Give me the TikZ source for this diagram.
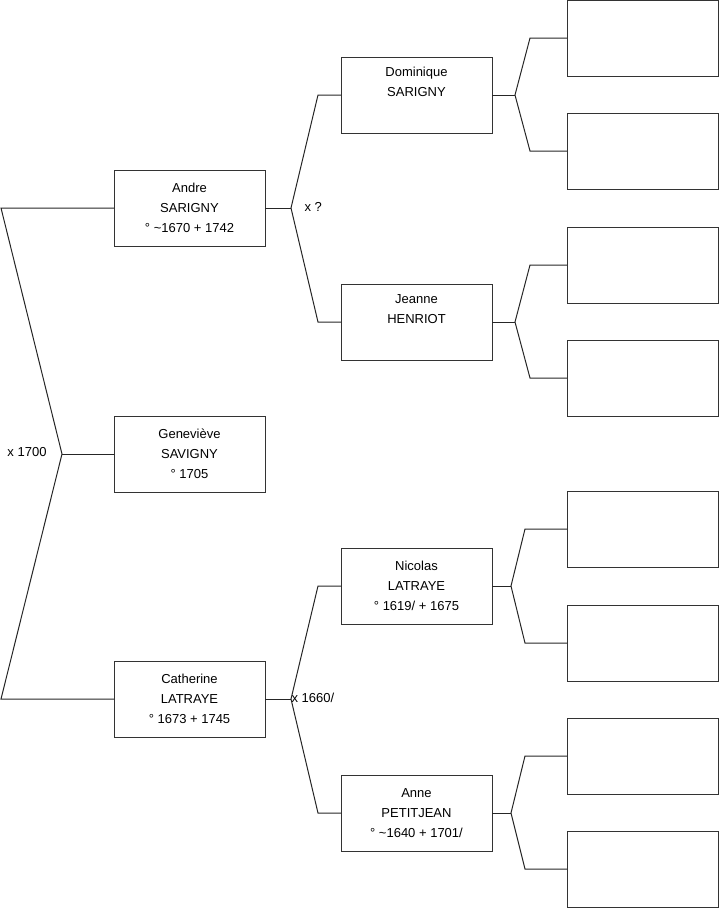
\documentclass[tikz,border=0pt]{standalone}
\usepackage{fontspec}
\setmainfont{Liberation Sans}
\usetikzlibrary{positioning}

\begin{document}
\begin{tikzpicture}[
    x=0.75pt, y=-0.75pt,
    line width=0.75pt,
    lien/.style={draw=black!85},
    person/.style={
        draw=black!80,
        rectangle,
        minimum width=113.25pt,
        minimum height=57pt,
        inner sep=0pt,
        outer sep=0pt,
        align=center,
        font=\fontsize{9.75}{15}\selectfont
    },
    mariage/.style={
        anchor=west,
        inner sep=0pt,
        font=\fontsize{9.75}{11}\selectfont
    }
]
\useasboundingbox (0,0) rectangle (719,908);

% generation 1
\node[person] (genevieve) at (189.5,454) {Geneviève\\SAVIGNY\\° 1705};

% generation 2
\node[person] (andre) at (189.5,208) {Andre\\SARIGNY\\° \textasciitilde1670 + 1742};
\node[person] (catherine) at (189.5,699) {Catherine\\LATRAYE\\° 1673 + 1745};

% generation 3
\node[person] (dominique) at (416.5,95) {Dominique\\SARIGNY\\\strut};
\node[person] (jeanne) at (416.5,322) {Jeanne\\HENRIOT\\\strut};
\node[person] (nicolas) at (416.5,586) {Nicolas\\LATRAYE\\° 1619/ + 1675};
\node[person] (anne) at (416.5,813) {Anne\\PETITJEAN\\° \textasciitilde1640 + 1701/};

% generation 4 (empty)
\foreach \name/\y in {p1/38, p2/151, p3/265, p4/378, p5/529, p6/643, p7/756, p8/869}
    \node[person] (\name) at (642.5,\y) {};

% junctions
\coordinate (jG) at (62,454);
\coordinate (jGa) at (1,208);
\coordinate (jGc) at (1,699);
\coordinate (jA) at (291,208);
\coordinate (jC) at (291,699);
\coordinate (jD) at (515,95);
\coordinate (jJ) at (515,322);
\coordinate (jN) at (511,586);
\coordinate (jP) at (511,813);

% links
\draw[lien] (genevieve.west) -- (jG);
\draw[lien] (andre.west) -- (jGa) -- (jG) -- (jGc) -- (catherine.west);

\draw[lien] (andre.east) -- (jA);
\draw[lien] (dominique.west) -- ++(-23,0) -- (jA) -- (318,322) -- (jeanne.west);
\draw[lien] (catherine.east) -- (jC);
\draw[lien] (nicolas.west) -- ++(-23,0) -- (jC) -- (318,813) -- (anne.west);

\draw[lien] (dominique.east) -- (jD);
\draw[lien] (p1.west) -- ++(-37,0) -- (jD) -- (530,151) -- (p2.west);
\draw[lien] (jeanne.east) -- (jJ);
\draw[lien] (p3.west) -- ++(-37,0) -- (jJ) -- (530,378) -- (p4.west);
\draw[lien] (nicolas.east) -- (jN);
\draw[lien] (p5.west) -- ++(-42,0) -- (jN) -- (525,643) -- (p6.west);
\draw[lien] (anne.east) -- (jP);
\draw[lien] (p7.west) -- ++(-42,0) -- (jP) -- (525,869) -- (p8.west);

% marriages
\node[mariage] (mG) at (7,452) {x 1700};
\node[mariage] (mA) at (304,207) {x ?};
\node[mariage] (mC) at (291,698) {x 1660/};

\end{tikzpicture}
\end{document}
